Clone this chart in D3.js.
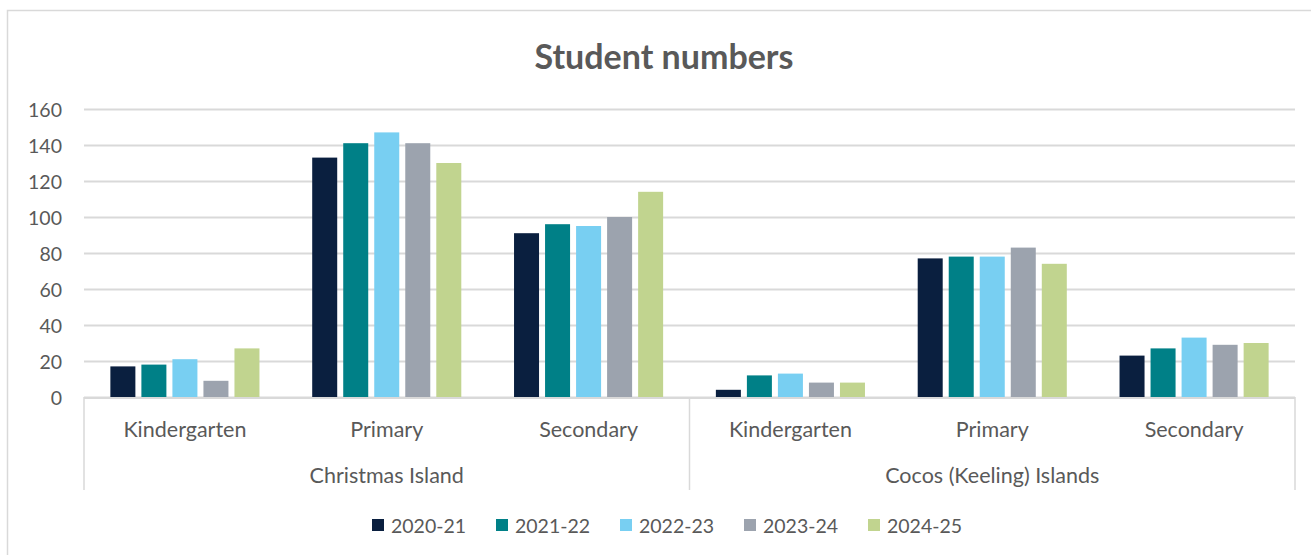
<!DOCTYPE html>
<html>
<head>
<meta charset="utf-8">
<script src="https://cdn.jsdelivr.net/npm/d3@7"></script>
<style>
  html, body { margin: 0; padding: 0; background: #fff; }
  svg { display: block; font-family: Lato, "Open Sans", sans-serif; }
</style>
</head>
<body>
<svg id="chart" width="1311" height="555"></svg>
<script>
// Student numbers by school level, per island, per school year
const regions = ["Christmas Island", "Cocos (Keeling) Islands"];
const levels = ["Kindergarten", "Primary", "Secondary"];
const years = ["2020-21", "2021-22", "2022-23", "2023-24", "2024-25"];
const colors = ["#0A1F3F", "#008087", "#78CFF2", "#9CA3AE", "#C1D48F"];
const yTicks = [0, 20, 40, 60, 80, 100, 120, 140, 160];

// one array per school year, ordered CI K/P/S then Cocos K/P/S
const y2020 = [17, 133, 91, 4, 77, 23];
const y2021 = [18, 141, 96, 12, 78, 27];
const y2022 = [21, 147, 95, 13, 78, 33];
const y2023 = [9, 141, 100, 8, 83, 29];
const y2024 = [27, 130, 114, 8, 74, 30];
const seriesValues = [y2020, y2021, y2022, y2023, y2024];

const categories = [];
regions.forEach(r => levels.forEach(l => categories.push(r + "|" + l)));

const svg = d3.select("#chart");
const textColor = "#595959";
const gridColor = "#D9D9D9";

// outer chart frame
svg.append("rect")
  .attr("x", 7.5).attr("y", 10.5)
  .attr("width", 1320).attr("height", 560)
  .attr("fill", "none").attr("stroke", gridColor).attr("stroke-width", 1.5);

const plot = { left: 84, right: 1295, top: 109, bottom: 397 };

const x0 = d3.scaleBand().domain(categories).range([plot.left, plot.right]);
const x1 = d3.scaleBand().domain(years).range([0, x0.bandwidth()])
  .paddingInner(0.194).paddingOuter(0.85);
const y = d3.scaleLinear().domain([0, 160]).range([plot.bottom, plot.top]);

// title
svg.append("text")
  .attr("x", 664).attr("y", 69)
  .attr("text-anchor", "middle")
  .attr("font-size", 34).attr("font-weight", 700)
  .attr("fill", textColor)
  .text("Student numbers");

// gridlines and value axis
const yAxis = d3.axisLeft(y).tickValues(yTicks)
  .tickSize(-(plot.right - plot.left)).tickPadding(22);
const gY = svg.append("g").attr("transform", `translate(${plot.left},0)`).call(yAxis);
gY.select(".domain").remove();
gY.selectAll(".tick line").attr("stroke", gridColor).attr("stroke-width", 1.8);
gY.selectAll(".tick text")
  .attr("fill", textColor).attr("font-size", 19.5)
  .attr("font-family", "Lato, sans-serif").attr("dy", "0.36em");

// bars
const groups = svg.append("g").selectAll("g")
  .data(categories)
  .join("g")
  .attr("transform", d => `translate(${x0(d)},0)`);

groups.selectAll("rect")
  .data((d, i) => years.map((yr, s) => ({ year: yr, s, v: seriesValues[s][i] })))
  .join("rect")
  .attr("x", d => x1(d.year))
  .attr("width", x1.bandwidth())
  .attr("y", d => y(d.v))
  .attr("height", d => y(0) - y(d.v))
  .attr("fill", d => colors[d.s]);

// category axis line
svg.append("line")
  .attr("x1", plot.left).attr("x2", plot.right)
  .attr("y1", y(0) + 1).attr("y2", y(0) + 1)
  .attr("stroke", gridColor).attr("stroke-width", 1.8);

// separators between the region groups
const sepX = [plot.left, x0(categories[3]), plot.right];
svg.append("g").selectAll("line")
  .data(sepX)
  .join("line")
  .attr("x1", d => d).attr("x2", d => d)
  .attr("y1", y(0)).attr("y2", 490)
  .attr("stroke", gridColor).attr("stroke-width", 1.5);

// level labels
svg.append("g").selectAll("text")
  .data(categories)
  .join("text")
  .attr("x", d => x0(d) + x0.bandwidth() / 2)
  .attr("y", 437)
  .attr("text-anchor", "middle")
  .attr("font-size", 21.5).attr("fill", textColor)
  .text(d => d.split("|")[1]);

// region labels
svg.append("g").selectAll("text")
  .data(regions)
  .join("text")
  .attr("x", (d, i) => x0(categories[i * 3]) + x0.bandwidth() * 1.5)
  .attr("y", 483)
  .attr("text-anchor", "middle")
  .attr("font-size", 21.5).attr("fill", textColor)
  .text(d => d);

// legend
const legendX = d3.scalePoint().domain(years).range([372, 868]);
const legend = svg.append("g").selectAll("g")
  .data(years)
  .join("g")
  .attr("transform", d => `translate(${legendX(d)},519)`);
legend.append("rect")
  .attr("width", 12).attr("height", 12)
  .attr("fill", (d, i) => colors[i]);
legend.append("text")
  .attr("x", 19).attr("y", 13.5)
  .attr("font-size", 19.5).attr("fill", textColor)
  .text(d => d);
</script>
</body>
</html>
